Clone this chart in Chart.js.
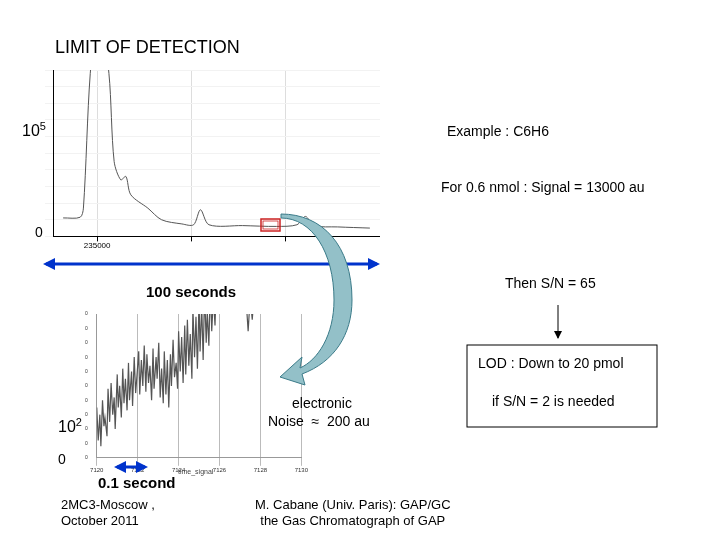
<!DOCTYPE html>
<html><head><meta charset="utf-8">
<script src="https://cdn.jsdelivr.net/npm/chart.js@4"></script>
<style>
body{margin:0;width:720px;height:540px;background:#fff;position:relative;overflow:hidden;font-family:"Liberation Sans",Arial,sans-serif;}
.t{position:absolute;white-space:nowrap;color:#000;font-size:14px;line-height:1.2}
#c1{position:absolute;left:20px;top:60px;}
#c2{position:absolute;left:84px;top:310px;}
</style></head><body>
<canvas id="c1" width="360" height="191"></canvas>
<canvas id="c2" width="225" height="165"></canvas>
<svg width="720" height="540" style="position:absolute;left:0;top:0">
<defs>
<marker id="bh" markerWidth="4" markerHeight="4" refX="3" refY="2" orient="auto-start-reverse"><path d="M0,0 L4,2 L0,4 z" fill="#0033cc"/></marker>
<marker id="kh" markerWidth="8" markerHeight="8" refX="7" refY="4" orient="auto"><path d="M0,0 L8,4 L0,8 z" fill="#000"/></marker>
</defs>
<line x1="46" y1="264" x2="377" y2="264" stroke="#0033cc" stroke-width="3" marker-start="url(#bh)" marker-end="url(#bh)"/>
<line x1="117" y1="467" x2="145" y2="467" stroke="#0033cc" stroke-width="3" marker-start="url(#bh)" marker-end="url(#bh)"/>
<line x1="558" y1="305" x2="558" y2="338" stroke="#000" stroke-width="1" marker-end="url(#kh)"/>
<path d="M281,218 C312,218 334,252 334,300 C334,335 318,360 300,368 L302,357 L280,377 L305,385 L302,374 C334,362 352,335 352,300 C352,245 322,214 281,214 Z" fill="#93c0c8" stroke="#3a7a88" stroke-width="1"/>
<rect x="261" y="219" width="19" height="12" fill="none" stroke="#cc2222" stroke-width="1.5"/>
<rect x="263" y="221" width="15" height="8" fill="none" stroke="#cc2222" stroke-width="0.8"/>
<rect x="467" y="345" width="190" height="82" fill="none" stroke="#000" stroke-width="1"/>
</svg>
<div class="t" style="left:55px;top:37px;font-size:18px">LIMIT OF DETECTION</div>
<div class="t" style="left:22px;top:120px;font-size:16px">10<sup style="font-size:11px">5</sup></div>
<div class="t" style="left:447px;top:123px">Example : C6H6</div>
<div class="t" style="left:441px;top:179px">For 0.6 nmol : Signal = 13000 au</div>
<div class="t" style="left:35px;top:224px">0</div>
<div class="t" style="left:146px;top:283px;font-weight:bold;font-size:15px">100 seconds</div>
<div class="t" style="left:505px;top:275px">Then S/N = 65</div>
<div class="t" style="left:478px;top:355px">LOD : Down to 20 pmol</div>
<div class="t" style="left:492px;top:393px">if S/N = 2 is needed</div>
<div class="t" style="left:292px;top:395px">electronic</div>
<div class="t" style="left:268px;top:413px">Noise&nbsp; ≈&nbsp; 200 au</div>
<div class="t" style="left:58px;top:416px;font-size:16px">10<sup style="font-size:11px">2</sup></div>
<div class="t" style="left:58px;top:451px">0</div>
<div class="t" style="left:98px;top:474px;font-weight:bold;font-size:15px">0.1 second</div>
<div class="t" style="left:61px;top:497px;font-size:13px">2MC3-Moscow ,<br>October 2011</div>
<div class="t" style="left:255px;top:497px;font-size:13px;text-align:center">M. Cabane (Univ. Paris): GAP/GC<br>the Gas Chromatograph of GAP</div>
<div class="t" style="left:178px;top:468px;font-size:7px;color:#444">time_signal</div>
<script>
const chromTime=[3.1,8.3,9.3,11.4,14,17.1,18.7,20.7,22.3,23.8,29,33.2,39.4,43,45.1,47.7,58,68.4,74.6,77.2,79.8,87,96.9];
const chromSignal=[11.1,11.5,17,98,140,98,45,34,36,25,17,10,7.5,7,16,7,6.5,6,7,12,6.5,5.7,5];
const noiseTime=[7120.0,7120.07,7120.15,7120.2,7120.28,7120.35,7120.4,7120.5,7120.55,7120.63,7120.7,7120.78,7120.85,7120.9,7121.0,7121.05,7121.12,7121.2,7121.27,7121.33,7121.4,7121.48,7121.55,7121.6,7121.7,7121.75,7121.83,7121.9,7121.97,7122.05,7122.1,7122.18,7122.25,7122.32,7122.4,7122.45,7122.53,7122.6,7122.68,7122.75,7122.8,7122.9,7122.95,7123.03,7123.1,7123.17,7123.25,7123.3,7123.38,7123.45,7123.52,7123.6,7123.65,7123.73,7123.8,7123.88,7123.95,7124.0,7124.08,7124.15,7124.22,7124.3,7124.35,7124.43,7124.5,7124.57,7124.65,7124.7,7124.78,7124.85,7124.92,7125.0,7125.05,7125.13,7125.2,7125.27,7125.35,7125.4,7125.48,7125.55,7125.62,7125.7,7125.78,7125.85,7126.0,7127.3,7127.4,7127.5,7127.6,7127.7];
const noiseSignal=[35,12,30,8,40,22,28,15,48,25,52,30,42,20,58,35,50,28,62,38,55,33,66,40,60,36,70,45,58,74,44,68,50,78,46,72,52,64,40,76,48,70,55,80,42,62,38,74,44,68,35,72,50,82,56,66,48,88,60,84,52,92,58,96,64,86,55,104,70,98,62,110,74,106,68,116,80,102,78,120,88,112,92,125,null,110,88,112,96,115];
const noiseTicks=[7120,7122,7124,7126,7128,7130];

new Chart(document.getElementById('c1'),{type:'scatter',
 data:{datasets:[{data:chromTime.map((x,i)=>({x,y:chromSignal[i]})),showLine:true,borderColor:'#555',borderWidth:1,pointRadius:0,tension:0.3}]},
 options:{responsive:false,animation:false,plugins:{legend:{display:false},tooltip:{enabled:false}},
  layout:{padding:{left:0,top:10,right:0,bottom:0}},
  scales:{x:{type:'linear',min:0,max:100,afterBuildTicks:a=>{a.ticks=[{value:13.5},{value:42.5},{value:71}]},
   ticks:{callback:v=>v===13.5?'235000':'',font:{size:8},color:'#000',maxRotation:0,padding:0},
   grid:{color:'#ddd',tickColor:'#000',drawTicks:true,tickLength:5},border:{color:'#000'}},
   y:{min:0,max:100,afterFit:s=>{s.width=33},ticks:{display:false},grid:{color:'#f2f2f2'},border:{color:'#000'}}}}});

new Chart(document.getElementById('c2'),{type:'scatter',
 data:{datasets:[{data:noiseTime.map((x,i)=>({x,y:noiseSignal[i]})),showLine:true,spanGaps:false,borderColor:'#555',borderWidth:1.2,pointRadius:0}]},
 options:{responsive:false,animation:false,plugins:{legend:{display:false},tooltip:{enabled:false}},
  scales:{x:{type:'linear',min:7120,max:7130,afterBuildTicks:a=>{a.ticks=noiseTicks.map(v=>({value:v}))},
   ticks:{callback:v=>String(v),font:{size:6},color:'#333',maxRotation:0,padding:1},grid:{color:'#bbb'},border:{color:'#999'}},
   y:{min:0,max:100,afterBuildTicks:a=>{a.ticks=Array.from({length:21},(_,i)=>({value:i*5}))},
   ticks:{callback:()=> '0',font:{size:5},color:'#333',padding:1},grid:{color:c=>(c.tick&&(c.tick.value===75||c.tick.value===25))?'#aab':'rgba(0,0,0,0)'},border:{color:'#999'}}}}});
</script>
</body></html>
